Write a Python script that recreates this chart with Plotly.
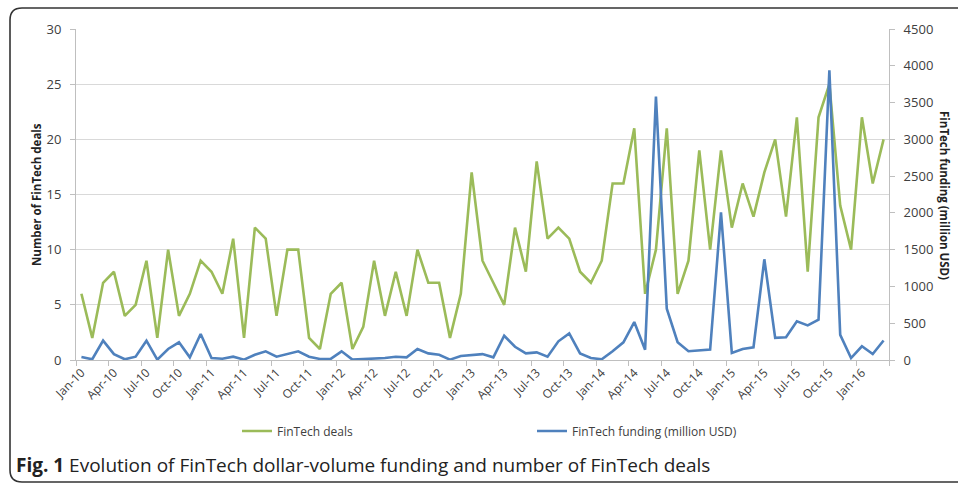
import pandas as pd
import plotly.graph_objects as go

months = [d.strftime("%b-%y") for d in pd.date_range("2010-01-01", periods=75, freq="MS")]

deals = [6, 2, 7, 8, 4, 5, 9, 2, 10, 4, 6, 9, 8, 6, 11, 2, 12, 11, 4, 10, 10, 2, 1,
         6, 7, 1, 3, 9, 4, 8, 4, 10, 7, 7, 2, 6, 17, 9, 7, 5, 12, 8, 18, 11, 12, 11, 8, 7, 9, 16,
         16, 21, 6, 10, 21, 6, 9, 19, 10, 19, 12, 16, 13, 17, 20, 13, 22, 8, 22, 25, 14, 10, 22, 16, 20]

funding = [40, 10, 263, 80, 10, 45, 263, 5, 150, 240, 36, 354, 27, 18, 45, 5, 72, 118, 45, 80, 118, 45, 14,
           15, 118, 5, 10, 15, 27, 45, 36, 150, 90, 72, 5, 54, 68, 80, 36, 330, 180, 90, 104, 45, 254, 362, 90, 27, 10, 118,
           240, 516, 140, 3580, 698, 242, 119, 128, 141, 2008, 96, 150, 173, 1369, 301, 310, 525, 470, 548, 3940, 342, 27, 187, 82, 265]

left_ticks = [0, 5, 10, 15, 20, 25, 30]
right_ticks = [0, 500, 1000, 1500, 2000, 2500, 3000, 3500, 4000, 4500]

GREEN = "#9BBB59"
BLUE = "#4F81BD"
FONT = "Open Sans"

idx = list(range(len(months)))
label_idx = idx[::3]
label_txt = [months[i] for i in label_idx]
minor_idx = [i - 0.5 for i in label_idx] + [len(months) - 0.5]

fig = go.Figure()
fig.add_trace(go.Scatter(x=idx, y=deals, mode="lines", name="FinTech deals",
                         line=dict(color=GREEN, width=2.6), yaxis="y"))
fig.add_trace(go.Scatter(x=idx, y=funding, mode="lines", name="FinTech funding (million USD)",
                         line=dict(color=BLUE, width=2.6), yaxis="y2"))

# plot area geometry in px
L, R, T, B = 76, 889, 29, 360
W, H = 958, 484
def px(x):
    return (x - L) / (R - L)
def py(y):
    return (B - y) / (B - T)

# rounded frame
r = 12
x0, y0, y1, x1 = 10, 8, 482, 975
path = (f"M {px(x1)},{py(y0)} L {px(x0 + r)},{py(y0)} Q {px(x0)},{py(y0)} {px(x0)},{py(y0 + r)} "
        f"L {px(x0)},{py(y1 - r)} Q {px(x0)},{py(y1)} {px(x0 + r)},{py(y1)} L {px(x1)},{py(y1)}")

fig.update_layout(
    width=W, height=H,
    margin=dict(l=L, r=W - R, t=T, b=H - B),
    paper_bgcolor="white", plot_bgcolor="white",
    font=dict(family=FONT, color="#404040", size=12),
    showlegend=True,
    legend=dict(orientation="h", x=px(237), xanchor="left", y=py(431), yanchor="middle",
                font=dict(family=FONT, size=12, color="#404040"),
                entrywidth=250, entrywidthmode="pixels", bgcolor="rgba(0,0,0,0)"),
    xaxis=dict(range=[-0.5, len(months) - 0.5], tickmode="array", tickvals=label_idx, ticktext=label_txt,
               tickangle=-45, ticks="", showgrid=False, zeroline=False,
               showline=True, linecolor="#bfbfbf", linewidth=1,
               tickfont=dict(family=FONT, size=12, color="#404040"),
               minor=dict(tickmode="array", tickvals=minor_idx, ticks="outside", ticklen=5,
                          tickcolor="#bfbfbf", showgrid=False)),
    yaxis=dict(range=[0, 30], tickmode="array", tickvals=left_ticks, ticks="outside", ticklen=5,
               tickcolor="#bfbfbf", showgrid=True, gridcolor="#d9d9d9", gridwidth=1,
               zeroline=False, showline=True, linecolor="#bfbfbf", linewidth=1,
               ticklabelstandoff=6, tickfont=dict(family=FONT, size=13, color="#404040")),
    yaxis2=dict(range=[0, 4500], tickmode="array", tickvals=right_ticks, overlaying="y", side="right",
                ticks="outside", ticklen=5, tickcolor="#bfbfbf", showgrid=False, zeroline=False,
                showline=True, linecolor="#bfbfbf", linewidth=1,
                ticklabelstandoff=6, tickfont=dict(family=FONT, size=13, color="#404040")),
    shapes=[dict(type="path", xref="paper", yref="paper", path=path,
                 line=dict(color="#333333", width=1.6))],
    annotations=[
        dict(text="<b>Number of FinTech deals</b>", xref="paper", yref="paper",
             x=px(36), y=py(195), textangle=-90, showarrow=False,
             font=dict(family=FONT, size=11.5, color="#222222"), xanchor="center", yanchor="middle"),
        dict(text="<b>FinTech funding (million USD)</b>", xref="paper", yref="paper",
             x=px(945), y=py(195), textangle=90, showarrow=False,
             font=dict(family=FONT, size=11.5, color="#222222"), xanchor="center", yanchor="middle"),
        dict(text="<b>Fig. 1</b> Evolution of FinTech dollar-volume funding and number of FinTech deals",
             xref="paper", yref="paper", x=px(14), y=py(465), xanchor="left", yanchor="middle",
             showarrow=False, font=dict(family=FONT, size=19, color="#222222")),
    ],
)

fig.write_html("out.html", config={"displayModeBar": False},
               post_script="document.body.style.margin='0';")
